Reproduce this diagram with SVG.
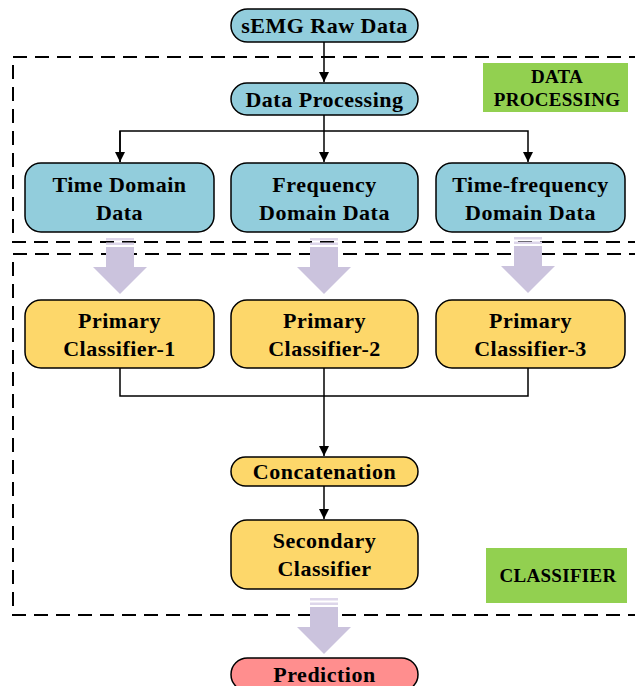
<svg xmlns="http://www.w3.org/2000/svg" width="635" height="686" viewBox="0 0 635 686">
<defs>
<style>
.t{font-family:"Liberation Serif","Times New Roman",serif;font-weight:bold;font-size:22px;letter-spacing:0.5px;fill:#000;text-anchor:middle}
.s{font-size:19px;letter-spacing:0.3px}
.b{fill:#92cddc;stroke:#000;stroke-width:1.5}
.y{fill:#fdd76a;stroke:#000;stroke-width:1.5}
.r{fill:#ff8e8e;stroke:#000;stroke-width:1.5}
.g{fill:#92d050}
.d{fill:none;stroke:#000;stroke-width:2;stroke-dasharray:14 8}
.l{fill:none;stroke:#000;stroke-width:1.5}
.fa{fill:#cbc3dd}
.fs{fill:#ddd6ea}
</style>
<marker id="ah" viewBox="0 0 10 10" refX="10" refY="5" markerWidth="10" markerHeight="10" markerUnits="userSpaceOnUse" orient="auto">
<path d="M0,0 L10,5 L0,10 z" fill="#000"/>
</marker>
<g id="fat">
<rect class="fs" x="-14" y="0" width="28" height="2.5"/>
<rect class="fs" x="-14" y="4.5" width="28" height="2.5"/>
<path class="fa" d="M-14,9 H14 V29 H27 L0,56 L-27,29 H-14 Z"/>
</g>
</defs>
<g id="regions">
<rect class="d" x="13" y="57" width="640" height="185"/>
<rect class="d" x="13" y="254" width="640" height="361"/>
</g>
<g id="label-data-processing">
<rect class="g" x="483" y="63" width="145" height="49"/>
<text class="t s" x="557" y="83">DATA</text>
<text class="t s" x="557" y="106">PROCESSING</text>
</g>
<g id="label-classifier">
<rect class="g" x="486" y="548" width="141" height="55"/>
<text class="t s" x="558" y="582">CLASSIFIER</text>
</g>
<g id="connectors">
<line class="l" x1="324" y1="42" x2="324" y2="82" marker-end="url(#ah)"/>
<polyline class="l" points="324,115 324,131"/>
<polyline class="l" points="120,162 120,131 528,131 528,162" marker-end="url(#ah)"/>
<line class="l" x1="120" y1="131" x2="120" y2="162" marker-end="url(#ah)"/>
<line class="l" x1="324" y1="131" x2="324" y2="162" marker-end="url(#ah)"/>
<polyline class="l" points="120,368 120,396 528,396 528,368"/>
<line class="l" x1="324" y1="368" x2="324" y2="456" marker-end="url(#ah)"/>
<line class="l" x1="324" y1="486" x2="324" y2="519" marker-end="url(#ah)"/>
<use href="#fat" x="120" y="238"/>
<use href="#fat" x="324" y="238"/>
<use href="#fat" x="528" y="237"/>
<use href="#fat" x="324" y="598"/>
</g>
<g id="semg-raw-data">
<rect class="b" x="231" y="9" width="187" height="33" rx="16.5"/>
<text class="t" x="324.5" y="33">sEMG Raw Data</text>
</g>
<g id="data-processing">
<rect class="b" x="231" y="83" width="187" height="32" rx="16"/>
<text class="t" x="324.5" y="107">Data Processing</text>
</g>
<g id="time-domain">
<rect class="b" x="25" y="163" width="189" height="69" rx="16"/>
<text class="t" x="119.5" y="192">Time Domain</text>
<text class="t" x="119.5" y="220">Data</text>
</g>
<g id="frequency-domain">
<rect class="b" x="231" y="163" width="187" height="69" rx="16"/>
<text class="t" x="324.5" y="192">Frequency</text>
<text class="t" x="324.5" y="220">Domain Data</text>
</g>
<g id="time-frequency-domain">
<rect class="b" x="436" y="163" width="189" height="69" rx="16"/>
<text class="t" x="530.5" y="192">Time-frequency</text>
<text class="t" x="530.5" y="220">Domain Data</text>
</g>
<g id="primary-1">
<rect class="y" x="25" y="300" width="189" height="68" rx="16"/>
<text class="t" x="119.5" y="328">Primary</text>
<text class="t" x="119.5" y="356">Classifier-1</text>
</g>
<g id="primary-2">
<rect class="y" x="231" y="300" width="187" height="68" rx="16"/>
<text class="t" x="324.5" y="328">Primary</text>
<text class="t" x="324.5" y="356">Classifier-2</text>
</g>
<g id="primary-3">
<rect class="y" x="436" y="300" width="189" height="68" rx="16"/>
<text class="t" x="530.5" y="328">Primary</text>
<text class="t" x="530.5" y="356">Classifier-3</text>
</g>
<g id="concatenation">
<rect class="y" x="231" y="457" width="187" height="29" rx="14.5"/>
<text class="t" x="324.5" y="479">Concatenation</text>
</g>
<g id="secondary-classifier">
<rect class="y" x="231" y="520" width="187" height="69" rx="16"/>
<text class="t" x="324.5" y="548">Secondary</text>
<text class="t" x="324.5" y="576">Classifier</text>
</g>
<g id="prediction">
<rect class="r" x="231" y="658" width="187" height="33" rx="16.5"/>
<text class="t" x="324.5" y="682">Prediction</text>
</g>
</svg>
